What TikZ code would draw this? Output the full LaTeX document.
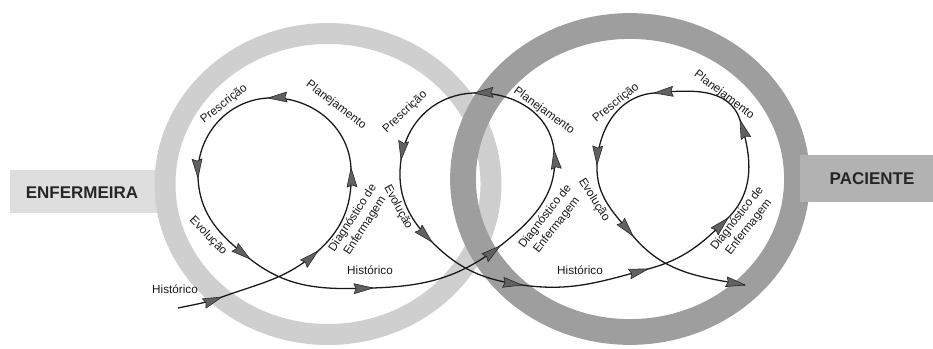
\documentclass[tikz,border=0pt]{standalone}
\usepackage{fontspec}
\setmainfont{Liberation Sans}
\usetikzlibrary{calc}
\begin{document}
\begin{tikzpicture}[x=0.03cm,y=0.03cm,
  lbl/.style={font=\fontsize{10}{12.5}\selectfont, text=black!90, inner sep=0pt, align=center},
  bigtxt/.style={font=\fontsize{14.5}{16}\selectfont\bfseries, text=black!85, inner sep=0pt},
  curve/.style={line width=1.1pt, draw=black!90},
  ahead/.pic={\filldraw[draw=black!85, fill=black!62, line width=0.5pt, line join=round]
     (0,0) -- (-19,5) -- (-17,0) -- (-19,-5) -- cycle;}]
\useasboundingbox (0,0) rectangle (933,-349);

% side bars and rings
\fill[black!13] (10,-170) rectangle (168,-213);
\draw[black!19, line width=17.9pt] (328,-184) ellipse [x radius=163, y radius=150.5];
\draw[black!38, line width=22pt] (630,-179) ellipse [x radius=167, y radius=153];
\fill[black!30] (800,-155) rectangle (933,-202);
\node[bigtxt] (enf) at (82,-193) {ENFERMEIRA};
\node[bigtxt] (pac) at (872,-179) {PACIENTE};

% waypoints of the spiral
\coordinate (S)  at (178,-308);
\coordinate (a1) at (222,-297);
\coordinate (a2) at (318,-251);
\coordinate (a3) at (351,-168);
\coordinate (a4) at (268,-98);
\coordinate (a5) at (198,-178);
\coordinate (a6) at (250,-259);
\coordinate (b1) at (373,-288);
\coordinate (a7) at (500,-246);
\coordinate (c1) at (554,-150);
\coordinate (c2) at (474,-93);
\coordinate (c3) at (401,-160);
\coordinate (c4) at (432,-242);
\coordinate (b2) at (522,-285);
\coordinate (d0) at (648,-269);
\coordinate (d1) at (728,-218);
\coordinate (d2) at (740,-120);
\coordinate (d3) at (654,-93);
\coordinate (d4) at (597,-165);
\coordinate (d5) at (633,-236);
\coordinate (E)  at (745,-285);

\draw[curve] (S) to[out=12,in=200] (a1) to[out=20,in=222] (a2)
  to[out=42,in=273] (a3) to[out=93,in=3] (a4) to[out=183,in=93] (a5)
  to[out=273,in=142] (a6) to[out=-38,in=182] (b1) to[out=2,in=218] (a7)
  to[out=38,in=277] (c1) to[out=97,in=2] (c2) to[out=182,in=82] (c3)
  to[out=262,in=135] (c4) to[out=315,in=172] (b2) to[out=-8,in=195] (d0)
  to[out=15,in=225] (d1) to[out=45,in=288] (d2) to[out=108,in=5] (d3)
  to[out=185,in=88] (d4) to[out=268,in=130] (d5) to[out=310,in=170] (E);

% arrowheads
\pic[rotate=20]  at (a1) {ahead};
\pic[rotate=42]  at (a2) {ahead};
\pic[rotate=93]  at (a3) {ahead};
\pic[rotate=183] at (a4) {ahead};
\pic[rotate=273] at (a5) {ahead};
\pic[rotate=-38] at (a6) {ahead};
\pic[rotate=2]   at (b1) {ahead};
\pic[rotate=38]  at (a7) {ahead};
\pic[rotate=97]  at (c1) {ahead};
\pic[rotate=182] at (c2) {ahead};
\pic[rotate=262] at (c3) {ahead};
\pic[rotate=-45] at (c4) {ahead};
\pic[rotate=-8]  at (b2) {ahead};
\pic[rotate=15]  at (d0) {ahead};
\pic[rotate=45]  at (d1) {ahead};
\pic[rotate=108] at (d2) {ahead};
\pic[rotate=185] at (d3) {ahead};
\pic[rotate=268] at (d4) {ahead};
\pic[rotate=-50] at (d5) {ahead};
\pic[rotate=-10] at (E)  {ahead};

% labels
\node[lbl] (h1) at (175,-289) {Histórico};
\node[lbl] (h2) at (370,-270) {Histórico};
\node[lbl] (h3) at (580,-270) {Histórico};

\node[lbl, rotate=38]  (p1) at (224,-104) {Prescrição};
\node[lbl, rotate=-37] (q1) at (336,-105) {Planejamento};
\node[lbl, rotate=-46] (e1) at (208,-236) {Evolução};
\node[lbl, rotate=57]  (g1) at (359,-222) {Diagnóstico de\\Enfermagem};

\node[lbl, rotate=43]  (p2) at (405,-112) {Prescrição};
\node[lbl, rotate=-36] (q2) at (544,-111) {Planejamento};
\node[lbl, rotate=-62] (e2) at (398,-207) {Evolução};
\node[lbl, rotate=52]  (g2) at (551,-221) {Diagnóstico de\\Enfermagem};

\node[lbl, rotate=39]  (p3) at (616,-103) {Prescrição};
\node[lbl, rotate=-37] (q3) at (724,-95)  {Planejamento};
\node[lbl, rotate=-58] (e3) at (594,-200) {Evolução};
\node[lbl, rotate=52]  (g3) at (743,-223) {Diagnóstico de\\Enfermagem};
\end{tikzpicture}
\end{document}
